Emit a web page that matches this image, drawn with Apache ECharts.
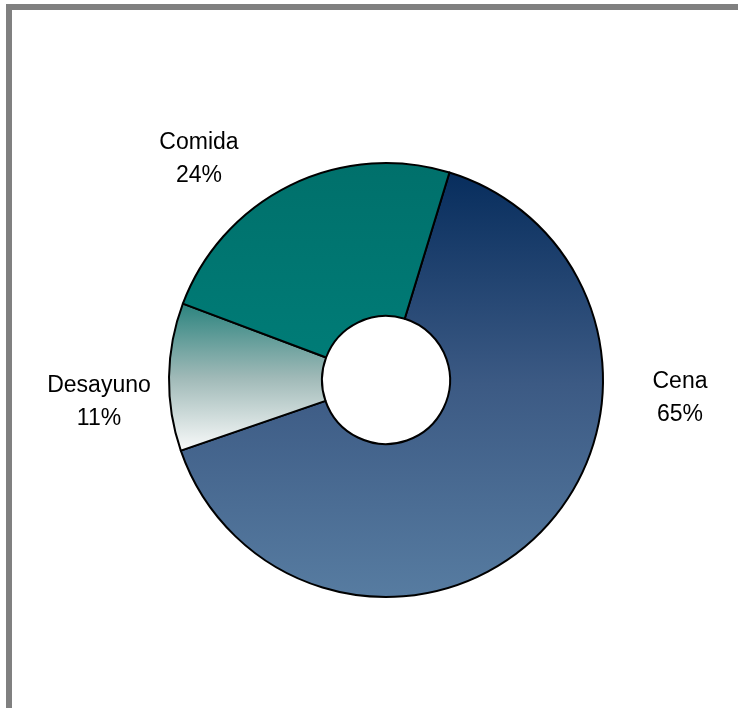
<!DOCTYPE html>
<html>
<head>
<meta charset="utf-8">
<script src="https://cdn.jsdelivr.net/npm/echarts@6/dist/echarts.min.js"></script>
<style>
html,body{margin:0;padding:0;background:#fff;}
#chart{width:738px;height:708px;}
</style>
</head>
<body>
<div id="chart"></div>
<script>
// Data
const categories = ['Cena', 'Desayuno', 'Comida'];
const values = [65, 11, 24];

// Styles (not data)
const sliceColors = [
  {type:'linear', x:0, y:0, x2:0, y2:1, colorStops:[{offset:0,color:'#072d5d'},{offset:0.5,color:'#3c5a84'},{offset:1,color:'#577ca1'}]},
  {type:'linear', x:0, y:0, x2:0, y2:1, colorStops:[{offset:0,color:'#2a837e'},{offset:0.5,color:'#9fb9b7'},{offset:1,color:'#fafbfb'}]},
  {type:'linear', x:0, y:0, x2:0, y2:1, colorStops:[{offset:0,color:'#00706b'},{offset:1,color:'#007c77'}]}
];
const labelPos = [[680, 398], [99, 402], [199, 159]];

const chart = echarts.init(document.getElementById('chart'), null, {renderer:'canvas'});
chart.setOption({
  animation: false,
  backgroundColor: '#ffffff',
  graphic: [
    {type:'rect', shape:{x:6, y:4, width:732, height:6}, style:{fill:'#808080'}, silent:true},
    {type:'rect', shape:{x:6, y:4, width:6, height:704}, style:{fill:'#808080'}, silent:true}
  ],
  series: [{
    type: 'pie',
    center: [386, 380],
    radius: [64, 217],
    startAngle: 73,
    clockwise: true,
    avoidLabelOverlap: false,
    data: categories.map((c, i) => ({
      name: c,
      value: values[i],
      itemStyle: {color: sliceColors[i]}
    })),
    itemStyle: {borderColor:'#000', borderWidth:2},
    label: {
      show: true,
      position: 'outside',
      formatter: (p) => p.name + '\n' + Math.round(p.percent) + '%',
      fontFamily: 'Liberation Sans, Arial, sans-serif',
      fontSize: 23,
      lineHeight: 33,
      color: '#000',
      align: 'center'
    },
    labelLine: {show: false},
    labelLayout: (params) => ({
      x: labelPos[params.dataIndex][0],
      y: labelPos[params.dataIndex][1],
      align: 'center',
      verticalAlign: 'middle'
    }),
    emphasis: {disabled: true}
  }]
});
</script>
</body>
</html>
